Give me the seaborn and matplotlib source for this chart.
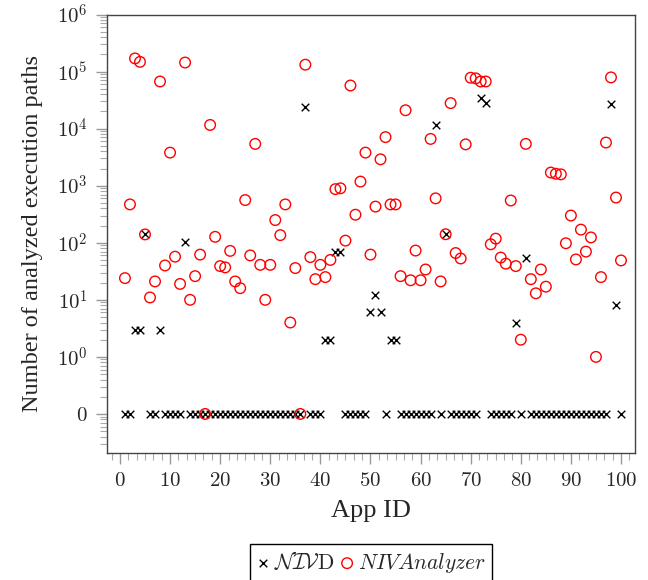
import numpy as np
import pandas as pd
import matplotlib
matplotlib.use("Agg")
import matplotlib.pyplot as plt
import seaborn as sns
from matplotlib import ticker

# app ids 1..100
app_ids = list(range(1, 101))

# number of analyzed execution paths, NIVAnalyzer (0 = none)
nivanalyzer = [
    24, 470, 170000, 148000, 140, 11, 21, 67000, 40, 3800,
    57, 19, 144000, 10, 26, 62, 0, 11600, 127, 39,
    37, 72, 21, 16, 560, 60, 5400, 41, 10, 41,
    250, 136, 470, 4, 36, 0, 132000, 56, 23, 41,
    25, 50, 870, 900, 109, 57000, 310, 1180, 3800, 62,
    430, 2900, 7100, 470, 470, 26, 21000, 22, 73, 22,
    34, 6600, 600, 21, 141, 28000, 66, 53, 5300, 78000,
    76000, 67000, 67000, 94, 118, 55, 43, 550, 39, 2,
    5400, 23, 13, 34, 17, 1700, 1620, 1580, 98, 300,
    51, 170, 70, 124, 1, 25, 5700, 79000, 620, 49,
]

# NIVD, mostly zero
nivd = [
    0, 0, 3, 3, 140, 0, 0, 3, 0, 0,
    0, 0, 105, 0, 0, 0, 0, 0, 0, 0,
    0, 0, 0, 0, 0, 0, 0, 0, 0, 0,
    0, 0, 0, 0, 0, 0, 24000, 0, 0, 0,
    2, 2, 70, 70, 0, 0, 0, 0, 0, 6,
    12, 6, 0, 2, 2, 0, 0, 0, 0, 0,
    0, 0, 11700, 0, 140, 0, 0, 0, 0, 0,
    0, 35000, 28000, 0, 0, 0, 0, 0, 4, 0,
    53, 0, 0, 0, 0, 0, 0, 0, 0, 0,
    0, 0, 0, 0, 0, 0, 0, 27000, 8, 0,
]

ZERO_POS = 0.1  # where "0" sits on the log axis

df_nivd = pd.DataFrame({"app": app_ids, "paths": nivd})
df_niva = pd.DataFrame({"app": app_ids, "paths": nivanalyzer})
for d in (df_nivd, df_niva):
    d["y"] = d["paths"].where(d["paths"] > 0, ZERO_POS)

sns.set_style("ticks")
plt.rcParams["font.family"] = ["Liberation Serif", "DejaVu Serif"]
plt.rcParams["mathtext.fontset"] = "cm"

fig = plt.figure(figsize=(6.48, 5.8), dpi=100)
ax = fig.add_axes([0.165, 0.219, 0.815, 0.756])

sns.scatterplot(data=df_nivd, x="app", y="y", ax=ax, marker="x", color="black",
                s=30, linewidth=1.0, label=r"$\mathcal{NIV}\mathrm{D}$", zorder=3)
sns.scatterplot(data=df_niva, x="app", y="y", ax=ax, marker="o", facecolor="none",
                edgecolor="red", s=58, linewidth=1.0, label=r"$\mathit{NIVAnalyzer}$", zorder=4)

ax.set_yscale("log")
ax.set_ylim(10 ** -1.684, 1e6)
ax.set_xlim(-2.6, 102.8)

ytick_pos = [ZERO_POS] + [10.0 ** k for k in range(0, 7)]
ytick_lab = ["$0$"] + [r"$10^{%d}$" % k for k in range(0, 7)]
ax.set_yticks(ytick_pos)
ax.set_yticklabels(ytick_lab)
ax.yaxis.set_minor_locator(ticker.LogLocator(base=10, subs=np.arange(2, 10), numticks=20))
ax.yaxis.set_minor_formatter(ticker.NullFormatter())

ax.xaxis.set_major_locator(ticker.MultipleLocator(10))
ax.xaxis.set_minor_locator(ticker.MultipleLocator(10 / 6))
ax.xaxis.set_major_formatter(ticker.FuncFormatter(lambda v, p: "$%d$" % round(v)))

ax.tick_params(axis="both", which="major", direction="out", length=8, width=1,
               color="#999999", labelsize=15, pad=6)
ax.tick_params(axis="both", which="minor", direction="out", length=5, width=0.8,
               color="#aaaaaa")
for sp in ax.spines.values():
    sp.set_color("#444444")
    sp.set_linewidth(1.0)

ax.set_xlabel("App ID", fontsize=19, labelpad=6)
ax.set_ylabel("Number of analyzed execution paths", fontsize=17.5, labelpad=10)

handles, labels = ax.get_legend_handles_labels()
ax.get_legend().remove()
leg = fig.legend(handles, labels, loc="upper center", bbox_to_anchor=(0.573, 0.08),
                 ncol=2, frameon=True, fancybox=False, edgecolor="black",
                 framealpha=1, fontsize=15.5, handlelength=0.6, handletextpad=0.2,
                 columnspacing=0.3, borderpad=0.3)
leg.get_frame().set_linewidth(1.0)

fig.savefig("out.png", dpi=100)
